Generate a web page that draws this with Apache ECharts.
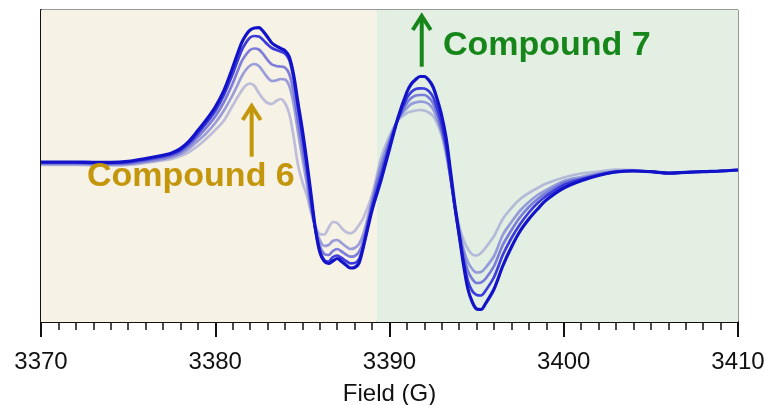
<!DOCTYPE html>
<html>
<head>
<meta charset="utf-8">
<script src="https://cdn.jsdelivr.net/npm/echarts@6/dist/echarts.min.js"></script>
<style>html,body{margin:0;padding:0;background:#fff;}#c{width:769px;height:405px;}</style>
</head>
<body>
<div id="c"></div>
<script>
// Field values (G)
const fields = [3370,3371,3372,3373,3374,3375,3376,3377,3377.5,3378,3378.5,3379,3379.5,3380,3380.5,3381,3381.5,3381.75,3382,3382.25,3382.5,3382.75,3383,3383.25,3383.5,3383.75,3384,3384.25,3384.5,3384.75,3385,3385.25,3385.5,3385.75,3386,3386.25,3386.5,3386.75,3387,3387.25,3387.5,3387.75,3388,3388.25,3388.5,3389,3389.5,3390,3390.5,3391,3391.25,3391.5,3391.75,3392,3392.25,3392.5,3392.75,3393,3393.25,3393.5,3393.75,3394,3394.25,3394.5,3394.75,3395,3395.25,3395.5,3396,3396.5,3397,3397.5,3398,3398.5,3399,3400,3401,3402,3403,3404,3405,3406,3407,3408,3409,3410];

// EPR signal traces (a.u.), darkest (1) to lightest (5)
const trace1 = [4,4,4,3.7,3.7,4.7,7.5,10.8,13,17.4,25,35.4,46.5,59,75.7,98.5,122.7,130.7,136,138,138.3,134.7,129,123,120,117.7,115.3,109,91,63,36,5,-29,-63,-86,-95,-97.5,-95,-92.5,-95.5,-99,-102,-101.5,-97,-81,-44,-15,17,49,74,82,86.5,89.5,89.5,86,79,66,50,28,-5,-39,-69,-99,-123,-136,-143,-143.5,-138,-123,-100,-81,-65,-53,-43,-34,-22,-14.7,-9.5,-6,-5,-5.7,-7.2,-6.4,-5.6,-5,-4];
const trace2 = [3.5,3.5,3.5,3.2,3.2,4,6.6,9.8,12,16,23,32.5,43,55,71,92,115,123,128.5,130,129.5,126,121.5,118,116,114.5,112.5,106,87,58,30,0,-33,-64,-85,-94,-95.5,-91,-89.5,-92,-95,-97.3,-97,-93,-80,-42,-11,20,48,68,74,77,77.7,77.5,75,69,57,42,21,-10,-42,-70,-95,-115,-125,-129,-129.5,-125,-111,-89,-72,-58,-46.5,-37,-30,-19,-13.5,-9,-5.8,-5,-5.7,-7.1,-6.4,-5.6,-5,-4];
const trace3 = [3,3,3,2.6,2.5,3.2,5.5,8.5,10.5,14.2,20.5,29,38.5,49.5,64,82.5,104,111,116,117.5,116.5,112,106,101.5,100,99.5,98.5,92,74,46,20,-8,-38,-64,-80,-88,-89,-85,-83,-85.5,-88.5,-90.7,-90,-86,-75,-38,-6,23,47,63,68,70.5,71,71,68.5,63,52,37,17,-12,-41,-67,-89,-105,-113,-117,-116.5,-113,-100,-79,-64,-51,-41,-33,-27,-17,-12.5,-8.5,-5.5,-4.5,-5.6,-7,-6.3,-5.6,-5,-4];
const trace4 = [2,2,2,1.6,1.5,2,4.3,7,9,12.2,17.5,25,33,43,55.5,71,89,96,100.5,102,100,94.5,88.5,85,85.5,87,86.5,80,62,34,8,-17,-43,-62,-74,-80,-79,-75,-74,-77,-80.5,-83,-82,-78,-68,-34,0,26,47,58,62,63.5,64.3,64,62,57,47,34,15,-12,-40,-64,-83,-96,-103,-106.5,-106,-102,-90,-69,-56,-44.5,-36,-29,-24,-15,-11,-7.5,-5,-4.5,-5.5,-7,-6.3,-5.6,-5,-4];
const trace5 = [1,1,1,0.7,0.5,1,3,5.5,7,10,14,20,27.5,36,45.5,60.5,75,80.5,82.5,80,73,67,63,62,65,67,63,52,29,1,-16,-29,-47,-60,-68,-68.5,-62,-56,-57,-62,-66,-67.3,-65,-59,-52,-29,7,30,46,53,54.5,55.5,56,55.5,53.5,50,42,30,11,-12,-39,-60,-74,-83,-88.5,-89.5,-87,-82,-70,-53,-42,-33,-27,-22,-17.5,-11.5,-7.5,-5.5,-3.5,-4,-5.5,-7,-6.3,-5.6,-5,-4];

const xTicks = [3370, 3380, 3390, 3400, 3410];
const regionSplit = 3389.27;

const traces = [trace1, trace2, trace3, trace4, trace5];
const colors = ['#1212c8', 'rgba(45,45,218,0.92)', 'rgba(85,85,212,0.75)', 'rgba(95,100,210,0.6)', 'rgba(120,125,205,0.45)'];
const widths = [3.2, 2.7, 2.7, 2.7, 2.7];
const FONT = '"Liberation Sans", Arial, Helvetica, sans-serif';

const chart = echarts.init(document.getElementById('c'), null, {renderer: 'canvas'});

const series = [{
  type: 'line', data: [], z: 1, silent: true,
  markArea: {
    silent: true,
    data: [
      [{xAxis: xTicks[0], itemStyle: {color: '#f6f2e5'}}, {xAxis: regionSplit}],
      [{xAxis: regionSplit, itemStyle: {color: '#e3efe3'}}, {xAxis: xTicks[xTicks.length - 1]}]
    ]
  }
}];
for (let k = traces.length - 1; k >= 0; k--) {
  series.push({
    type: 'line',
    data: fields.map((f, i) => [f, traces[k][i]]),
    showSymbol: false,
    smooth: 0.3,
    z: 3 + (traces.length - k),
    lineStyle: {color: colors[k], width: widths[k]},
    emphasis: {disabled: true}
  });
}

chart.setOption({
  animation: false,
  grid: {left: 41, right: 31, top: 10, bottom: 83, containLabel: false, outerBoundsMode: 'none',
    show: true, borderColor: '#333', borderWidth: 1, backgroundColor: 'transparent'},
  xAxis: {
    type: 'value', min: xTicks[0], max: xTicks[xTicks.length - 1], interval: 10,
    name: 'Field (G)', nameLocation: 'middle', nameGap: 60,
    nameTextStyle: {fontSize: 24, color: '#111', fontFamily: FONT},
    axisLine: {onZero: false, lineStyle: {color: '#111', width: 2}},
    axisTick: {inside: false, length: 15, lineStyle: {color: '#111', width: 2}},
    minorTick: {show: true, splitNumber: 10, length: 8, lineStyle: {color: '#111', width: 1.5}},
    axisLabel: {fontSize: 24, color: '#111', margin: 28, fontFamily: FONT, showMinLabel: true, showMaxLabel: true,
      formatter: v => String(v)},
    splitLine: {show: false}, minorSplitLine: {show: false}
  },
  yAxis: {
    type: 'value', min: -156, max: 156,
    axisLine: {show: true, onZero: false, lineStyle: {color: '#111', width: 2}},
    axisTick: {show: false}, axisLabel: {show: false}, splitLine: {show: false}
  },
  series: series
});

// Annotations (data coordinates)
const ann = {
  arrow6: {x: 3382.09, tip: 61, base: 9.3, color: '#c4960c'},
  arrow7: {x: 3391.85, tip: 151, base: 99.3, color: '#17861a'},
  text6: {x: 3372.64, y: -11, text: 'Compound 6', color: '#c4960c'},
  text7: {x: 3393.07, y: 120, text: 'Compound 7', color: '#17861a'}
};
function px(x, y) { return chart.convertToPixel({gridIndex: 0}, [x, y]); }
function arrow(a) {
  const t = px(a.x, a.tip), b = px(a.x, a.base);
  return [
    {type: 'polyline', z: 100, shape: {points: [[t[0], t[1] + 2], b]}, style: {stroke: a.color, lineWidth: 4, fill: null}},
    {type: 'polyline', z: 100, shape: {points: [[t[0] - 9, t[1] + 15], [t[0], t[1] + 1], [t[0] + 9, t[1] + 15]]}, style: {stroke: a.color, lineWidth: 4, fill: null, lineJoin: 'miter'}}
  ];
}
function label(a) {
  const p = px(a.x, a.y);
  return {type: 'text', z: 100, x: p[0], y: p[1], style: {text: a.text, fill: a.color, font: 'bold 34px ' + FONT, textAlign: 'left', textVerticalAlign: 'middle'}};
}
chart.setOption({graphic: [].concat(arrow(ann.arrow6), arrow(ann.arrow7), [label(ann.text6), label(ann.text7)])});
</script>
</body>
</html>
